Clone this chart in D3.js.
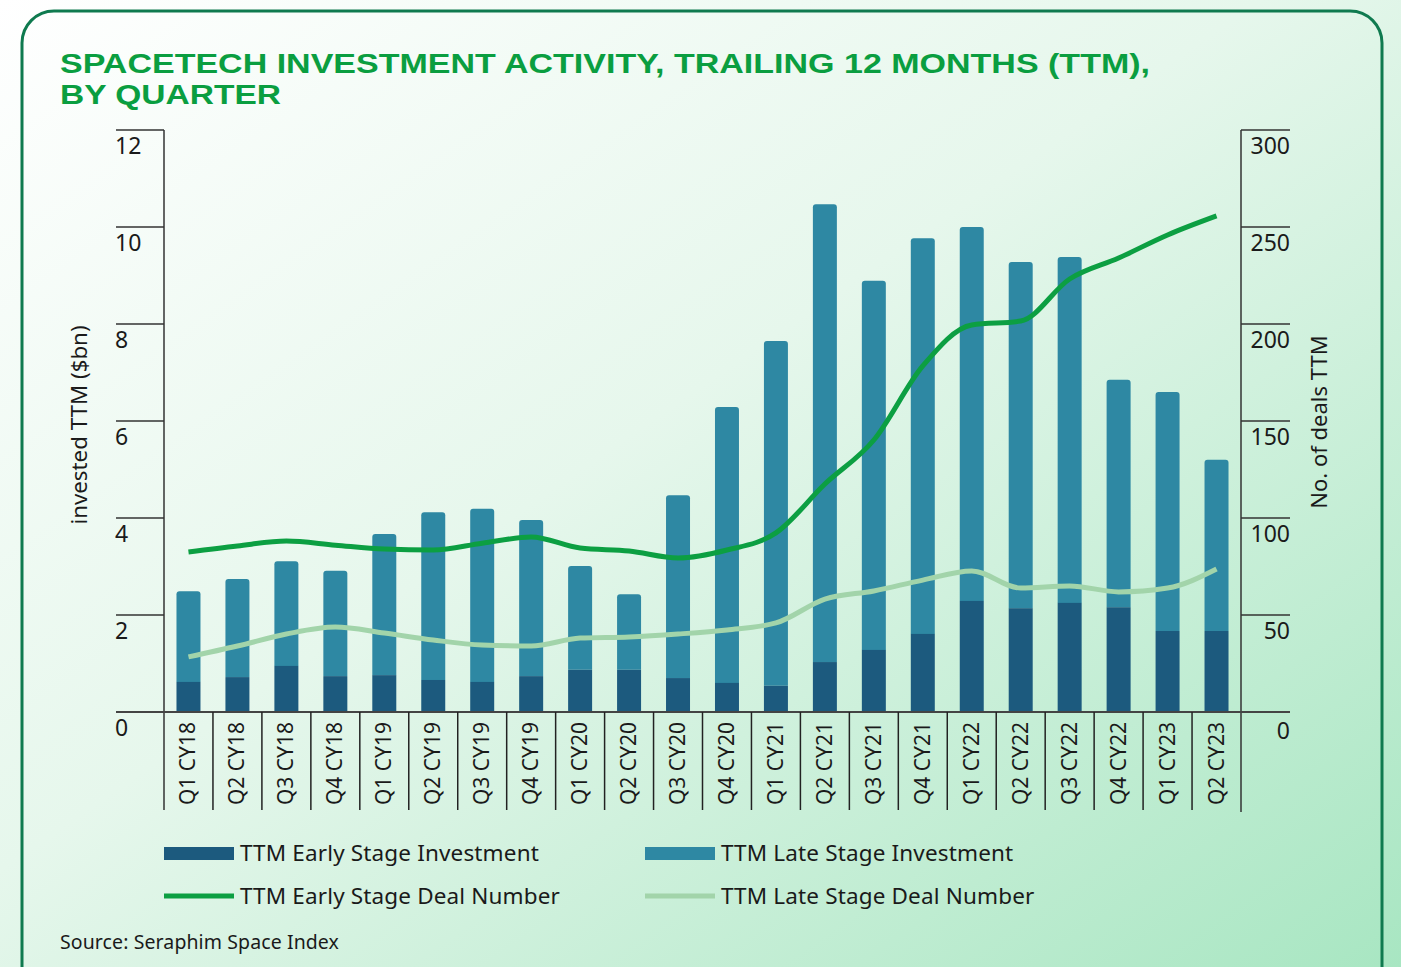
<!DOCTYPE html>
<html><head><meta charset="utf-8">
<script src="https://cdn.jsdelivr.net/npm/d3@7"></script>
<style>
html,body{margin:0;padding:0;}
body{width:1401px;height:967px;overflow:hidden;}
</style></head>
<body>
<svg id="chart" width="1401" height="967"></svg>
<script>
const categories = ["Q1 CY18","Q2 CY18","Q3 CY18","Q4 CY18","Q1 CY19","Q2 CY19","Q3 CY19","Q4 CY19","Q1 CY20","Q2 CY20","Q3 CY20","Q4 CY20","Q1 CY21","Q2 CY21","Q3 CY21","Q4 CY21","Q1 CY22","Q2 CY22","Q3 CY22","Q4 CY22","Q1 CY23","Q2 CY23"];
const earlyInvestment = [0.62,0.72,0.95,0.74,0.76,0.66,0.62,0.74,0.87,0.87,0.70,0.60,0.54,1.03,1.28,1.61,2.29,2.14,2.25,2.16,1.67,1.67];
const totalInvestment = [2.49,2.74,3.11,2.91,3.67,4.12,4.19,3.96,3.01,2.43,4.47,6.29,7.65,10.47,8.89,9.77,10.0,9.28,9.38,6.85,6.60,5.20];
const lateInvestment = totalInvestment.map((t,i)=>+(t-earlyInvestment[i]).toFixed(2));
const earlyDeals = [82.5,85.6,88.1,86,84,83.5,87,90.2,84.5,83,79.4,83.5,92.3,117.5,140.2,178.4,199.5,201.5,223.2,234,245.9,255.7];
const lateDeals = [28.4,34,40.2,43.8,40.7,37.1,34.5,34,38.1,38.7,40.2,42.3,45.9,58.2,62.4,68,72.7,63.9,65,61.9,63.9,73.7];
const leftTicks = [0,2,4,6,8,10,12];
const rightTicks = [0,50,100,150,200,250,300];
const titleLines = ["SPACETECH INVESTMENT ACTIVITY, TRAILING 12 MONTHS (TTM),","BY QUARTER"];
const legendItems = [
  {label:"TTM Early Stage Investment", type:"bar", key:"early"},
  {label:"TTM Late Stage Investment", type:"bar", key:"late"},
  {label:"TTM Early Stage Deal Number", type:"line", key:"earlyLine"},
  {label:"TTM Late Stage Deal Number", type:"line", key:"lateLine"}
];
const colors = {early:"#1c5a7e", late:"#2e88a3", earlyLine:"#0c9f42", lateLine:"#a2d4aa"};
const font = "'Noto Sans', sans-serif";

const svg = d3.select("#chart");
const defs = svg.append("defs");
const grad = defs.append("linearGradient").attr("id","bg").attr("x1","0%").attr("y1","0%").attr("x2","100%").attr("y2","100%");
grad.append("stop").attr("offset","0%").attr("stop-color","#ffffff");
grad.append("stop").attr("offset","45%").attr("stop-color","#e6f7ec");
grad.append("stop").attr("offset","100%").attr("stop-color","#a8e6c2");
svg.append("rect").attr("width",1401).attr("height",967).attr("fill","url(#bg)");
svg.append("rect").attr("x",22).attr("y",11).attr("width",1360).attr("height",1000).attr("rx",32)
  .attr("fill","none").attr("stroke","#0f7a4f").attr("stroke-width",3);

// Title
const titleW = [1090, 221];
titleLines.forEach((t,i)=>{
  svg.append("text").attr("x",60).attr("y",73+i*31).text(t)
    .attr("font-family","'Liberation Sans', sans-serif").attr("font-weight","bold")
    .attr("font-size",27.5).attr("fill","#0a9e40")
    .attr("textLength",titleW[i]).attr("lengthAdjust","spacingAndGlyphs");
});

const x0 = 164, x1 = 1241, yTop = 130, yBot = 712;
const x = d3.scaleBand().domain(categories).range([x0,x1]).paddingInner(0.51).paddingOuter(0.255);
const yL = d3.scaleLinear().domain([0,12]).range([yBot,yTop]);
const yR = d3.scaleLinear().domain([0,300]).range([yBot,yTop]);

// Bars
const r = 3;
function topRounded(xp,w,yt,yb){
  return `M${xp},${yb}V${yt+r}Q${xp},${yt} ${xp+r},${yt}H${xp+w-r}Q${xp+w},${yt} ${xp+w},${yt+r}V${yb}Z`;
}
const bw = x.bandwidth();
svg.append("g").selectAll("path.late").data(categories).join("path")
  .attr("d",(c,i)=>topRounded(x(c),bw,yL(totalInvestment[i]),yL(earlyInvestment[i])))
  .attr("fill",colors.late);
svg.append("g").selectAll("rect.early").data(categories).join("rect")
  .attr("x",c=>x(c)).attr("width",bw)
  .attr("y",(c,i)=>yL(earlyInvestment[i])).attr("height",(c,i)=>yBot-yL(earlyInvestment[i]))
  .attr("fill",colors.early);

// Lines
const line = d3.line().x((d,i)=>x(categories[i])+bw/2).y(d=>yR(d)).curve(d3.curveMonotoneX);
svg.append("path").attr("d",line(lateDeals)).attr("fill","none").attr("stroke",colors.lateLine).attr("stroke-width",5);
svg.append("path").attr("d",line(earlyDeals)).attr("fill","none").attr("stroke",colors.earlyLine).attr("stroke-width",5);

// Left axis
const gL = svg.append("g");
gL.append("line").attr("x1",x0).attr("x2",x0).attr("y1",yTop).attr("y2",810).attr("stroke","#333").attr("stroke-width",1.5);
leftTicks.forEach(t=>{
  if(t>0) gL.append("line").attr("x1",116).attr("x2",x0).attr("y1",yL(t)).attr("y2",yL(t)).attr("stroke","#333").attr("stroke-width",1.5);
  gL.append("text").attr("x",115).attr("y",yL(t)+24).text(t)
    .attr("font-family",font).attr("font-size",23).attr("fill","#1a1a1a");
});
// Right axis
const gR = svg.append("g");
gR.append("line").attr("x1",x1).attr("x2",x1).attr("y1",yTop).attr("y2",812).attr("stroke","#333").attr("stroke-width",1.5);
rightTicks.forEach(t=>{
  if(t>0) gR.append("line").attr("x1",x1).attr("x2",1290).attr("y1",yR(t)).attr("y2",yR(t)).attr("stroke","#333").attr("stroke-width",1.5);
  gR.append("text").attr("x",1290).attr("y",yR(t)+(t===0?27:24)).attr("text-anchor","end").text(t)
    .attr("font-family",font).attr("font-size",23).attr("fill","#1a1a1a");
});
// baseline
svg.append("line").attr("x1",116).attr("x2",1290).attr("y1",yBot).attr("y2",yBot).attr("stroke","#444").attr("stroke-width",2);

// Category separators and labels
categories.forEach((c,i)=>{
  if(i>0){
    const xs = x0 + (x1-x0)/categories.length*i;
    svg.append("line").attr("x1",xs).attr("x2",xs).attr("y1",yBot).attr("y2",810).attr("stroke","#222").attr("stroke-width",1.5);
  }
  const cx = x(c)+bw/2+7;
  svg.append("text").attr("transform",`translate(${cx},722) rotate(-90)`).attr("text-anchor","end").text(c)
    .attr("font-family",font).attr("font-size",21).attr("fill","#1a1a1a");
});

// Axis titles
svg.append("text").attr("transform","translate(87,425) rotate(-90)").attr("text-anchor","middle").text("invested TTM ($bn)")
  .attr("font-family",font).attr("font-size",22.3).attr("fill","#1a1a1a");
svg.append("text").attr("transform","translate(1327,422) rotate(-90)").attr("text-anchor","middle").text("No. of deals TTM")
  .attr("font-family",font).attr("font-size",22).attr("fill","#1a1a1a");

// Legend
const legPos = [[164,853],[645,853],[164,896],[645,896]];
legendItems.forEach((it,i)=>{
  const [lx,ly] = legPos[i];
  if(it.type==="bar") svg.append("rect").attr("x",lx).attr("y",ly-6).attr("width",70).attr("height",13).attr("fill",colors[it.key]);
  else svg.append("rect").attr("x",lx).attr("y",ly-2.5).attr("width",70).attr("height",5).attr("fill",colors[it.key]);
  svg.append("text").attr("x",lx+76).attr("y",ly+8).text(it.label)
    .attr("font-family",font).attr("font-size",22.5).attr("letter-spacing",0.15).attr("fill","#1a1a1a");
});

svg.append("text").attr("x",60).attr("y",949).text("Source: Seraphim Space Index")
  .attr("font-family",font).attr("font-size",19.5).attr("letter-spacing",0.1).attr("fill","#1a1a1a");
</script>
</body></html>
